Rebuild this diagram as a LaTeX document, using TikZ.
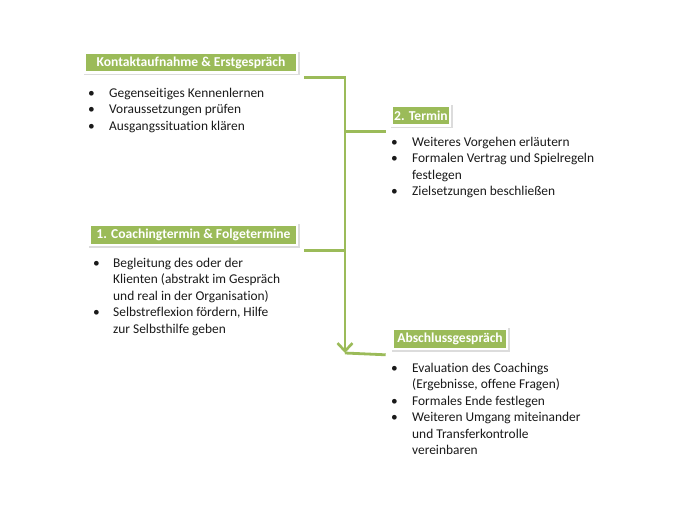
\documentclass[tikz,border=0pt]{standalone}
\usepackage{fontspec}
\setmainfont{Carlito}[Ligatures=NoCommon]
\usetikzlibrary{arrows.meta,shadows}
\definecolor{hgreen}{HTML}{9BBB59}
\definecolor{txt}{HTML}{1A1A1A}
\tikzset{
  hdr/.style={fill=hgreen, draw=white, line width=2.6pt, text=white,
    font=\bfseries\fontsize{13.6}{16}\selectfont, inner sep=0pt,
    minimum height=20pt,
    drop shadow={shadow xshift=0.8pt, shadow yshift=-0.8pt, opacity=0.3,
      fill=black!45, draw=black!45, line width=3.4pt}},
  lst/.style={anchor=base west, inner sep=0pt, text=txt,
    font=\fontsize{13.4}{16.4}\selectfont, align=left},
  conn/.style={draw=hgreen, line width=2.8pt, line join=miter}
}
\begin{document}
\begin{tikzpicture}[x=1pt,y=-1pt]
\useasboundingbox[fill=white] (0,0) rectangle (700,525);

% headers
\node[hdr, minimum width=212pt] (h1) at (191,62.5) {Kontaktaufnahme \& Erstgespräch};
\node[hdr, minimum width=58pt] (h2) at (421,115.5) {2. Termin};
\node[hdr, minimum width=207pt] (h3) at (193.5,235) {1. Coachingtermin \& Folgetermine};
\node[hdr, minimum width=114pt] (h4) at (450,339) {Abschlussgespräch};

% lists
\node[lst] (l1) at (88,97.5) {\begin{tabular}[t]{@{}p{21pt}@{}l@{}}
\textbullet & Gegenseitiges Kennenlernen\\
\textbullet & Voraussetzungen prüfen\\
\textbullet & Ausgangssituation klären
\end{tabular}};
\node[lst] (l2) at (391,146.5) {\begin{tabular}[t]{@{}p{21pt}@{}l@{}}
\textbullet & Weiteres Vorgehen erläutern\\
\textbullet & Formalen Vertrag und Spielregeln\\
 & festlegen\\
\textbullet & Zielsetzungen beschließen
\end{tabular}};
\node[lst] (l3) at (93,267.5) {\begin{tabular}[t]{@{}p{20pt}@{}l@{}}
\textbullet & Begleitung des oder der\\
 & Klienten (abstrakt im Gespräch\\
 & und real in der Organisation)\\
\textbullet & Selbstreflexion fördern, Hilfe\\
 & zur Selbsthilfe geben
\end{tabular}};
\node[lst] (l4) at (391,372.5) {\begin{tabular}[t]{@{}p{21pt}@{}l@{}}
\textbullet & Evaluation des Coachings\\
 & (Ergebnisse, offene Fragen)\\
\textbullet & Formales Ende festlegen\\
\textbullet & Weiteren Umgang miteinander\\
 & und Transferkontrolle\\
 & vereinbaren
\end{tabular}};

% connectors
\coordinate (tip) at (345,353);
\coordinate (a1) at ([shift={(6pt,-3.5pt)}]h1.south east);
\coordinate (a2) at ([shift={(-5pt,-4.5pt)}]h2.south west);
\coordinate (a3) at ([shift={(6pt,-4.5pt)}]h3.south east);
\coordinate (a4) at ([shift={(-6pt,-4.5pt)}]h4.south west);
\draw[conn, -{Straight Barb[length=8pt,width=15pt,line width=2.6pt]}] (a1) -| (tip);
\draw[conn] (a2) -- (a2 -| tip);
\draw[conn] (a3) -- (a3 -| tip);
\draw[conn] (tip) -- (a4);
\end{tikzpicture}
\end{document}
